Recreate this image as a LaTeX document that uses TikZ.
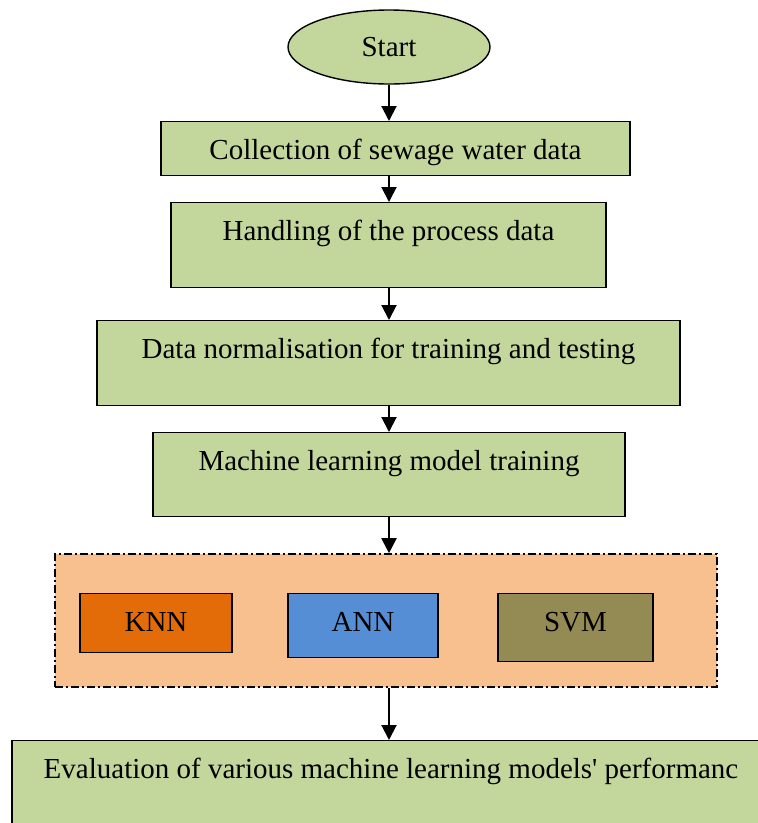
\documentclass[tikz,border=0pt]{standalone}
\usepackage{fontspec}
\setmainfont{Liberation Serif}
\newfontfamily\flowfont{Liberation Serif}
\usetikzlibrary{shapes.geometric,arrows.meta}
\definecolor{boxgreen}{HTML}{C3D69B}
\definecolor{grouporange}{HTML}{F9C08F}
\definecolor{knnorange}{HTML}{E36C09}
\definecolor{annblue}{HTML}{558ED5}
\definecolor{svmolive}{HTML}{948A54}
\tikzset{
  flowbox/.style={draw=black, line width=1.4pt, inner sep=0pt, anchor=north, text height=37.5pt},
  startoval/.style={ellipse, draw=black, line width=1.4pt, fill=boxgreen, inner sep=0pt, minimum width=202pt, minimum height=74pt},
  groupbox/.style={draw=black, line width=1.6pt, dash pattern=on 8pt off 3pt on 2pt off 3pt, fill=grouporange, inner sep=0pt},
  flowarrow/.style={line width=2pt, -{Triangle[width=15pt,length=15pt]}}
}

\begin{document}
\begin{tikzpicture}[x=1pt, y=-1pt, font=\flowfont\fontsize{29}{34}\selectfont]
		%%%%% START %%%%%
		\clip (0, 0) rectangle (758, 823);
		\fill[white] (0, 0) rectangle (758, 823);
		
		\node[startoval] (start) at (389, 47) {Start};
		
		\node[flowbox, fill=boxgreen, minimum width=469pt, text depth=16.5pt] (collect) at (395.5, 121) {Collection of sewage water data};
		\node[flowbox, fill=boxgreen, minimum width=435pt, text depth=47.5pt] (handle) at (388.5, 202) {Handling of the process data};
		\node[flowbox, fill=boxgreen, minimum width=583pt, text depth=47.5pt] (norm) at (388.5, 320) {Data normalisation for training and testing};
		\node[flowbox, fill=boxgreen, minimum width=472pt, text depth=46.5pt] (train) at (389, 432) {Machine learning model training};
		
		\node[groupbox, minimum width=662pt, minimum height=133pt] (models) at (386, 620.5) {};
		\node[flowbox, fill=knnorange, minimum width=152pt, text depth=21.5pt] (knn) at (156, 593) {KNN};
		\node[flowbox, fill=annblue, minimum width=150pt, text depth=26.5pt] (ann) at (363, 593) {ANN};
		\node[flowbox, fill=svmolive, minimum width=155pt, text depth=30.5pt] (svm) at (575.5, 593) {SVM};
		
		\node[flowbox, fill=boxgreen, minimum width=758pt, text depth=52.5pt] (eval) at (391, 740) {Evaluation of various machine learning models\textquotesingle{} performanc};
		
		\draw[flowarrow] (start.south) -- (start.south |- collect.north);
		\draw[flowarrow] (start.south |- collect.south) -- (start.south |- handle.north);
		\draw[flowarrow] (start.south |- handle.south) -- (start.south |- norm.north);
		\draw[flowarrow] (start.south |- norm.south) -- (start.south |- train.north);
		\draw[flowarrow] (start.south |- train.south) -- (start.south |- models.north);
		\draw[flowarrow] (start.south |- models.south) -- (start.south |- eval.north);
		%%%%% END %%%%%
	\end{tikzpicture}
\end{document}
